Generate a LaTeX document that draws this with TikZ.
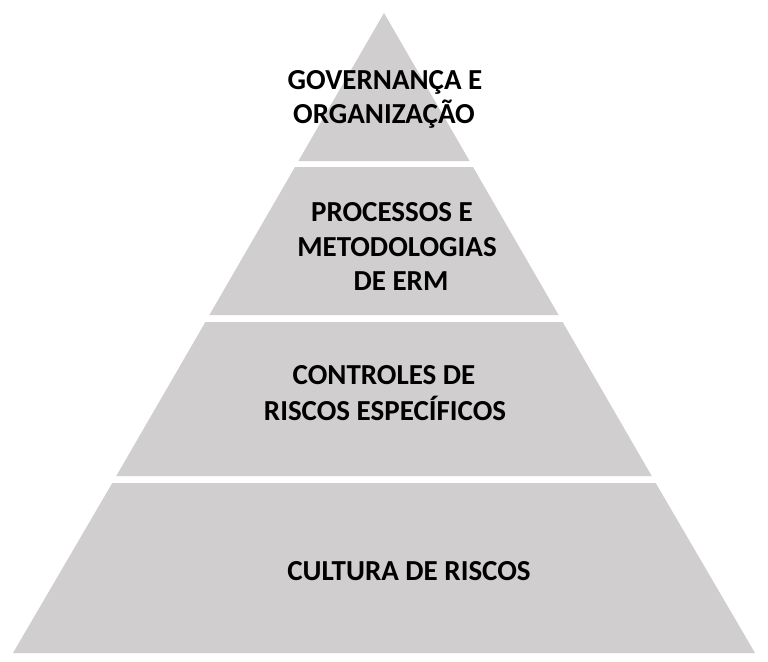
\documentclass[tikz,border=0pt]{standalone}
\usepackage{fontspec}
\setmainfont{Carlito}
\definecolor{layergray}{HTML}{D0CECE}
\begin{document}
\begin{tikzpicture}[x=1pt,y=-1pt,
  layer/.style={fill=layergray,draw=none},
  lbl/.style={anchor=base,inner sep=0pt,font=\fontsize{29}{35}\selectfont\bfseries,text=black}]
\useasboundingbox (0,0) rectangle (768,661);
\fill[white] (0,0) rectangle (768,661);
% layers
\path[layer] (384,13) -- (469.6,161) -- (298.4,161) -- cycle;
\path[layer] (295,167) -- (473,167) -- (558.6,315) -- (209.4,315) -- cycle;
\path[layer] (205.4,322) -- (562.6,322) -- (651.7,476) -- (116.3,476) -- cycle;
\path[layer] (112.3,483) -- (655.7,483) -- (755,653) -- (13,653) -- cycle;
% labels
\node[lbl] (g1) at (385,89.5) {GOVERNANÇA E};
\node[lbl] (g2) at (384,123.5) {ORGANIZAÇÃO};
\node[lbl] (p1) at (392,221.5) {PROCESSOS E};
\node[lbl] (p2) at (397,256) {METODOLOGIAS};
\node[lbl] (p3) at (401,290) {DE ERM};
\node[lbl] (c1) at (384,384) {CONTROLES DE};
\node[lbl] (c2) at (385,420) {RISCOS ESPECÍFICOS};
\node[lbl] (r1) at (409,580) {CULTURA DE RISCOS};
\end{tikzpicture}
\end{document}
